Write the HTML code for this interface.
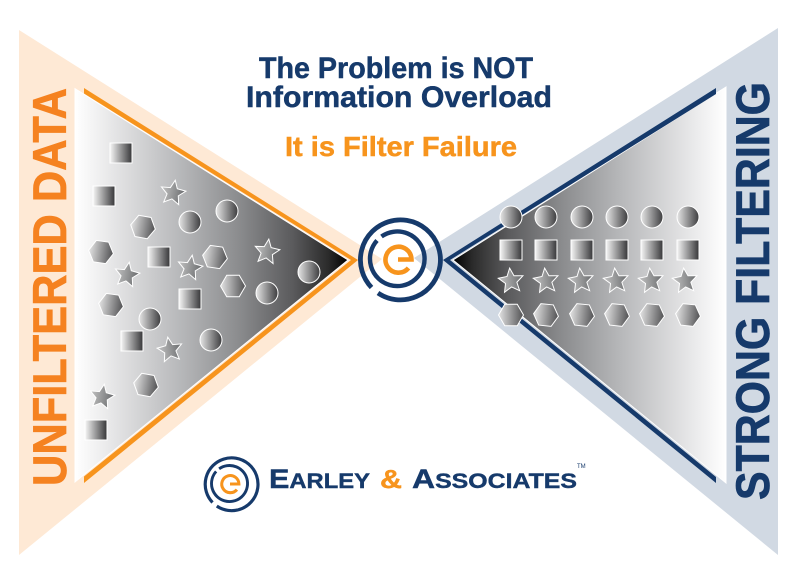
<!DOCTYPE html>
<html><head><meta charset="utf-8">
<style>html,body{margin:0;padding:0;background:#fff;width:794px;height:581px;overflow:hidden}svg{display:block}
text{font-family:"Liberation Sans",sans-serif;font-weight:bold}</style></head>
<body>
<svg width="794" height="581" viewBox="0 0 794 581" xmlns="http://www.w3.org/2000/svg">
<defs>
<linearGradient id="gl" gradientUnits="userSpaceOnUse" x1="75" y1="0" x2="348" y2="0">
<stop offset="0" stop-color="#fff"/><stop offset=".1" stop-color="#ededee"/><stop offset=".4" stop-color="#b4b5b7"/><stop offset=".6" stop-color="#8b8c8e"/><stop offset=".8" stop-color="#5a5a5c"/><stop offset=".93" stop-color="#2a2a2a"/><stop offset="1" stop-color="#000"/>
</linearGradient>
<linearGradient id="gr" gradientUnits="userSpaceOnUse" x1="726" y1="0" x2="453" y2="0">
<stop offset="0" stop-color="#fff"/><stop offset=".1" stop-color="#ededee"/><stop offset=".4" stop-color="#b4b5b7"/><stop offset=".6" stop-color="#8b8c8e"/><stop offset=".8" stop-color="#5a5a5c"/><stop offset=".93" stop-color="#2a2a2a"/><stop offset="1" stop-color="#000"/>
</linearGradient>
<linearGradient id="gs"><stop offset="0" stop-color="#f6f6f6"/><stop offset="1" stop-color="#363638"/></linearGradient>
<linearGradient id="gc"><stop offset="0" stop-color="#e6e6e6"/><stop offset="1" stop-color="#3c3c3e"/></linearGradient>
<linearGradient id="gh"><stop offset="0" stop-color="#e4e4e4"/><stop offset="1" stop-color="#505052"/></linearGradient>
<linearGradient id="gt"><stop offset="0" stop-color="#c4c4c4"/><stop offset="1" stop-color="#686A6C"/></linearGradient>
<rect id="sq" x="-11" y="-10" width="22" height="20" fill="url(#gs)" stroke="#fff" stroke-width="1"/>
<circle id="ci" r="11" fill="url(#gc)" stroke="#fff" stroke-width="1"/>
<polygon id="hx" points="12.5,0 6.25,10.8 -6.25,10.8 -12.5,0 -6.25,-10.8 6.25,-10.8" fill="url(#gh)" stroke="#fff" stroke-width="1"/>
<polygon id="st" points="0,-13 3.5,-4.9 12.4,-4 5.7,1.9 7.6,10.5 0,6 -7.6,10.5 -5.7,1.9 -12.4,-4 -3.5,-4.9" fill="url(#gt)" stroke="#fff" stroke-width="1"/>
<g id="logo" fill="none">
<path d="M371.500,287.500 A40,40 0 1 1 378,293" stroke="#163a6b" stroke-width="4.800"/>
<path d="M381.500,236.500 A27.300,27.300 0 1 1 377,240.500" stroke="#163a6b" stroke-width="4.400"/>
<path d="M398,259.500 H411.500 A13,13 0 1 0 408.500,268" stroke="#f7941d" stroke-width="4.600"/>
</g>
</defs>

<polygon points="19,30 382,259 19,555" fill="#fee9d5"/>
<polygon points="778,28 414,258 778,555" fill="#d1d9e3"/>

<polygon points="75,88.700 348,260 75,482" fill="url(#gl)" stroke="#fff" stroke-width="1"/>
<polygon points="84,88 358,260 84,483 84,476.500 351,260 84,93.500" fill="#f7941d"/>

<polygon points="726,87 453,260 726,483" fill="url(#gr)" stroke="#fff" stroke-width="1"/>
<polygon points="716,88 443,260 716,483 716,477 450,260 716,94" fill="#163a6b"/>

<use href="#logo"/>

<!-- left shapes -->
<use href="#sq" x="121" y="153"/><use href="#sq" x="104" y="196"/><use href="#sq" x="159" y="257"/>
<use href="#sq" x="190" y="299"/><use href="#sq" x="132" y="341"/><use href="#sq" x="96" y="430"/>
<use href="#ci" x="190" y="222"/><use href="#ci" x="227" y="211"/><use href="#ci" x="150" y="319"/>
<use href="#ci" x="211" y="340"/><use href="#ci" x="309" y="272"/><use href="#ci" x="267" y="293"/>
<use href="#st" transform="translate(173,193) rotate(10)"/><use href="#st" transform="translate(127,275) rotate(10)"/>
<use href="#st" transform="translate(190,268) rotate(10)"/><use href="#st" transform="translate(170,350) rotate(-10)"/>
<use href="#st" transform="translate(102,397) rotate(10)"/><use href="#st" transform="translate(267,252) rotate(8)"/>
<use href="#hx" transform="translate(143,227) rotate(10)"/><use href="#hx" transform="translate(101,252) rotate(8)"/>
<use href="#hx" transform="translate(111,305) rotate(8)"/><use href="#hx" transform="translate(146,385) rotate(10)"/>
<use href="#hx" transform="translate(215,257) rotate(8)"/><use href="#hx" transform="translate(233,286) rotate(0)"/>

<!-- right shapes -->
<use href="#ci" x="511" y="217"/><use href="#ci" x="546" y="217"/><use href="#ci" x="582" y="217"/>
<use href="#ci" x="617" y="217"/><use href="#ci" x="652" y="217"/><use href="#ci" x="688" y="217"/>
<use href="#sq" x="511" y="250"/><use href="#sq" x="546" y="250"/><use href="#sq" x="582" y="250"/>
<use href="#sq" x="617" y="250"/><use href="#sq" x="652" y="250"/><use href="#sq" x="688" y="250"/>
<use href="#st" transform="translate(511,281) rotate(-6)"/><use href="#st" transform="translate(546,281) rotate(-6)"/>
<use href="#st" transform="translate(581,281) rotate(-6)"/><use href="#st" transform="translate(616,281) rotate(-6)"/>
<use href="#st" transform="translate(651,281) rotate(-6)"/><use href="#st" transform="translate(685,281) rotate(-6)"/>
<use href="#hx" transform="translate(511,315) rotate(0)"/><use href="#hx" transform="translate(546,315) rotate(6)"/>
<use href="#hx" transform="translate(582,315) rotate(6)"/><use href="#hx" transform="translate(617,315) rotate(6)"/>
<use href="#hx" transform="translate(652,315) rotate(6)"/><use href="#hx" transform="translate(688,315) rotate(6)"/>

<!-- headings -->
<text x="259" y="78" font-size="30" fill="#163a6b" stroke="#163a6b" stroke-width=".5" textLength="274" lengthAdjust="spacingAndGlyphs">The Problem is NOT</text>
<text x="246" y="107" font-size="30" fill="#163a6b" stroke="#163a6b" stroke-width=".5" textLength="306" lengthAdjust="spacingAndGlyphs">Information Overload</text>
<text x="285" y="156" font-size="28" fill="#f7941d" stroke="#f7941d" stroke-width=".5" textLength="232" lengthAdjust="spacingAndGlyphs">It is Filter Failure</text>

<!-- side labels -->
<text transform="translate(66,486) rotate(-90)" font-size="47" fill="#f58220" stroke="#f58220" stroke-width=".7" textLength="398" lengthAdjust="spacingAndGlyphs">UNFILTERED DATA</text>
<text transform="translate(769,500) rotate(-90)" font-size="47" fill="#163a6b" stroke="#163a6b" stroke-width=".7" textLength="418" lengthAdjust="spacingAndGlyphs">STRONG FILTERING</text>

<!-- bottom logo -->
<use href="#logo" transform="translate(230,483) scale(.66) translate(-398,-258)"/>
<text x="269" y="488" fill="#163a6b" stroke="#163a6b" stroke-width=".4" textLength="101" lengthAdjust="spacingAndGlyphs" font-size="21"><tspan font-size="27">E</tspan>ARLEY</text>
<text x="380" y="488" fill="#f7941d" stroke="#f7941d" stroke-width=".4" font-size="26" textLength="22" lengthAdjust="spacingAndGlyphs">&amp;</text>
<text x="412" y="488" fill="#163a6b" stroke="#163a6b" stroke-width=".4" textLength="165" lengthAdjust="spacingAndGlyphs" font-size="21"><tspan font-size="27">A</tspan>SSOCIATES</text>
<text x="577" y="468" fill="#163a6b" font-size="6" style="font-weight:normal">TM</text>
</svg>
</body></html>
